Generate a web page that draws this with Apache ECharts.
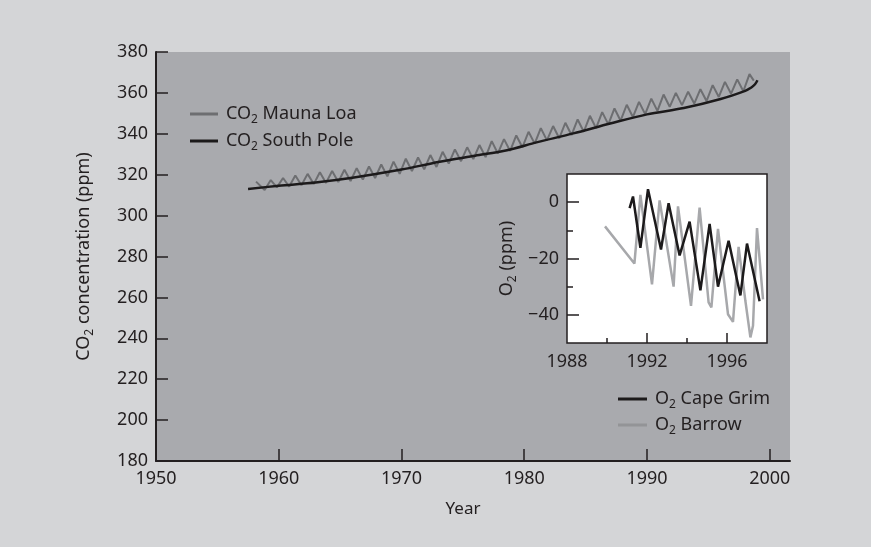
<!DOCTYPE html>
<html>
<head>
<meta charset="utf-8">
<script src="https://cdn.jsdelivr.net/npm/echarts@6/dist/echarts.min.js"></script>
<style>
    html, body { margin: 0; background: #d4d5d7; }
    #chart { width: 871px; height: 547px; }
</style>
</head>
<body>
<div id="chart"></div>
<script>
    // CO2 South Pole (year, ppm)
    let spYear = [1957.5, 1960, 1963, 1966, 1970, 1973, 1976, 1978.6, 1981, 1984, 1987, 1990, 1993, 1996, 1998, 1998.5, 1998.8, 1999];
    let spPpm  = [313.0, 314.6, 316.2, 318.5, 322.5, 326.2, 329.3, 332.0, 335.8, 340.2, 345.0, 349.5, 352.6, 357.0, 361.0, 362.6, 364.2, 366.2];

    // CO2 Mauna Loa: seasonal peaks (1959-1998) and troughs (1958-1997)
    let mloFirst = [1958.15, 316.6];
    let mloLast = [1998.7, 366.0];
    let mloPeak = [317.4, 318.4, 319.6, 320.4, 321.2, 321.8, 322.4, 323.2, 324.0, 325.0,
                   326.4, 327.8, 328.4, 329.6, 331.2, 332.4, 333.4, 334.5, 336.4, 337.4,
                   339.2, 341.0, 342.8, 343.8, 345.4, 347.0, 348.8, 350.6, 352.4, 354.2,
                   355.6, 357.2, 359.2, 360.0, 360.6, 361.8, 363.8, 365.4, 366.6, 369.2];
    let mloTrough = [312.5, 313.8, 314.2, 314.8, 315.4, 316.0, 316.4, 316.9, 317.6, 318.4,
                     319.2, 320.4, 321.8, 322.6, 323.8, 325.4, 326.6, 327.6, 328.6, 330.4,
                     331.6, 333.4, 335.2, 336.8, 337.8, 339.4, 341.0, 342.8, 344.6, 346.4,
                     348.2, 349.6, 351.2, 353.2, 354.0, 354.8, 356.0, 358.0, 359.6, 360.8];

    // O2 inset (year, ppm)
    let capeYear = [1991.13, 1991.3, 1991.67, 1992.05, 1992.7, 1993.08, 1993.63, 1994.13, 1994.67, 1995.13, 1995.55, 1996.08, 1996.67, 1997.0, 1997.63];
    let capeO2   = [-2.1, 2.0, -16.2, 4.6, -16.8, -0.4, -18.9, -6.9, -31.3, -7.7, -30.0, -13.7, -33.1, -14.7, -35.2];
    let barrowYear = [1989.9, 1991.37, 1991.67, 1992.25, 1992.63, 1993.33, 1993.55, 1994.2, 1994.63, 1995.08, 1995.22, 1995.55,
                      1996.05, 1996.3, 1996.58, 1996.92, 1997.17, 1997.3, 1997.5, 1997.8];
    let barrowO2   = [-8.6, -21.8, 2.6, -29.2, 0.6, -30.0, -1.5, -36.8, -1.9, -35.6, -37.4, -9.5,
                      -39.8, -42.5, -15.9, -35.1, -48.0, -43.9, -9.2, -34.5];

    let mainXLabels = [1950, 1960, 1970, 1980, 1990, 2000];
    let insetXLabels = [1988, 1992, 1996];
    let insetXMinor = [1990, 1994];
    let insetYLabels = [-40, -20, 0];
    let insetYMinor = [-30, -10];

    let ink = '#231f20';
    let font = 'Noto Sans';
    let rich = {
        t: {fontSize: 18, lineHeight: 24, color: ink, fontFamily: font},
        s: {fontSize: 12, lineHeight: 14, verticalAlign: 'bottom', color: ink, fontFamily: font}
    };
    function sub(name) {
        return name.replace(/^(CO|O)2(.*)$/, '{t|$1}{s|2}{t|$2}');
    }
    function zip(xs, ys) {
        return xs.map((x, i) => [x, ys[i]]);
    }
    function plain(v) {
        return v < 0 ? '\u2212' + (-v) : String(v);
    }

    let mloData = [mloFirst];
    for (let i = 0; i < mloTrough.length; i++) {
        mloData.push([1958 + i + 0.85, mloTrough[i]]);
        mloData.push([1959 + i + 0.35, mloPeak[i]]);
    }
    mloData.push(mloLast);

    let label = {color: ink, fontSize: 18, fontFamily: font, formatter: plain};
    let tick = {color: ink, width: 1.5};
    let insetRect = {left: 567, right: 104, top: 174, bottom: 204};

    let myChart = echarts.init(document.getElementById('chart'));
    let option = {
        animation: false,
        backgroundColor: '#d4d5d7',
        grid: [
            {left: 156, right: 81, top: 52, bottom: 86, show: true, backgroundColor: '#a9aaae', borderWidth: 0},
            Object.assign({show: true, backgroundColor: '#ffffff', borderColor: ink, borderWidth: 1.5}, insetRect),
            // same box, only carries the short in-between ticks
            Object.assign({show: false}, insetRect)
        ],
        legend: [
            {
                data: ['CO2 Mauna Loa', 'CO2 South Pole'],
                orient: 'vertical', left: 185, top: 100,
                icon: 'rect', itemWidth: 28, itemHeight: 3, itemGap: 6,
                formatter: sub,
                textStyle: {rich: rich, padding: [0, 0, 0, 3]}
            },
            {
                data: ['O2 Cape Grim', {name: 'O2 Barrow', itemStyle: {color: '#939497'}}],
                orient: 'vertical', left: 613, top: 385,
                icon: 'rect', itemWidth: 29, itemHeight: 3, itemGap: 5,
                formatter: sub,
                textStyle: {rich: rich, padding: [0, 0, 0, 3]}
            }
        ],
        xAxis: [
            {
                gridIndex: 0, type: 'value', min: 1950, max: 2001.65,
                axisLine: {onZero: false, lineStyle: {color: ink, width: 2}},
                axisTick: {inside: true, length: 12, customValues: mainXLabels.slice(1), lineStyle: tick},
                axisLabel: Object.assign({customValues: mainXLabels, margin: 9}, label),
                splitLine: {show: false},
                name: 'Year', nameLocation: 'middle', nameGap: 40,
                nameTextStyle: {color: ink, fontSize: 17, fontFamily: font, padding: [0, 20, 0, 0]}
            },
            {
                gridIndex: 1, type: 'value', min: 1988, max: 1998,
                axisLine: {show: false, onZero: false},
                axisTick: {inside: true, length: 10, customValues: insetXLabels.slice(1), lineStyle: tick},
                axisLabel: Object.assign({customValues: insetXLabels, margin: 10}, label),
                splitLine: {show: false}
            },
            {
                gridIndex: 2, type: 'value', min: 1988, max: 1998,
                axisLine: {show: false, onZero: false},
                axisTick: {inside: true, length: 5, customValues: insetXMinor, lineStyle: tick},
                axisLabel: {show: false},
                splitLine: {show: false}
            }
        ],
        yAxis: [
            {
                gridIndex: 0, type: 'value', min: 180, max: 380, interval: 20,
                axisLine: {show: true, onZero: false, lineStyle: {color: ink, width: 2}},
                axisTick: {show: true, inside: true, length: 12, lineStyle: tick},
                axisLabel: Object.assign({margin: 8}, label),
                splitLine: {show: false},
                name: sub('CO2 concentration (ppm)'), nameLocation: 'middle', nameGap: 60, nameRotate: 90,
                nameTextStyle: {rich: rich}
            },
            {
                gridIndex: 1, type: 'value', min: -50, max: 10,
                axisLine: {show: false, onZero: false},
                axisTick: {show: true, inside: true, length: 12, customValues: insetYLabels, lineStyle: tick},
                axisLabel: Object.assign({customValues: insetYLabels, margin: 8}, label),
                splitLine: {show: false},
                name: sub('O2 (ppm)'), nameLocation: 'middle', nameGap: 48, nameRotate: 90,
                nameTextStyle: {rich: rich}
            },
            {
                gridIndex: 2, type: 'value', min: -50, max: 10,
                axisLine: {show: false, onZero: false},
                axisTick: {show: true, inside: true, length: 6, customValues: insetYMinor, lineStyle: tick},
                axisLabel: {show: false},
                splitLine: {show: false}
            }
        ],
        series: [
            {
                name: 'CO2 Mauna Loa', type: 'line', xAxisIndex: 0, yAxisIndex: 0,
                symbol: 'none', data: mloData,
                lineStyle: {color: '#6d6e71', width: 2}, itemStyle: {color: '#6d6e71'}
            },
            {
                name: 'CO2 South Pole', type: 'line', xAxisIndex: 0, yAxisIndex: 0,
                symbol: 'none', smooth: 0.3, data: zip(spYear, spPpm),
                lineStyle: {color: '#1c1a1b', width: 2.5}, itemStyle: {color: '#1c1a1b'}
            },
            {
                name: 'O2 Barrow', type: 'line', xAxisIndex: 1, yAxisIndex: 1,
                symbol: 'none', data: zip(barrowYear, barrowO2),
                lineStyle: {color: '#a7a8ab', width: 2.5}, itemStyle: {color: '#a7a8ab'}
            },
            {
                name: 'O2 Cape Grim', type: 'line', xAxisIndex: 1, yAxisIndex: 1,
                symbol: 'none', data: zip(capeYear, capeO2),
                lineStyle: {color: '#1c1a1b', width: 2.5}, itemStyle: {color: '#1c1a1b'}
            }
        ]
    };
    myChart.setOption(option);
</script>
</body>
</html>
